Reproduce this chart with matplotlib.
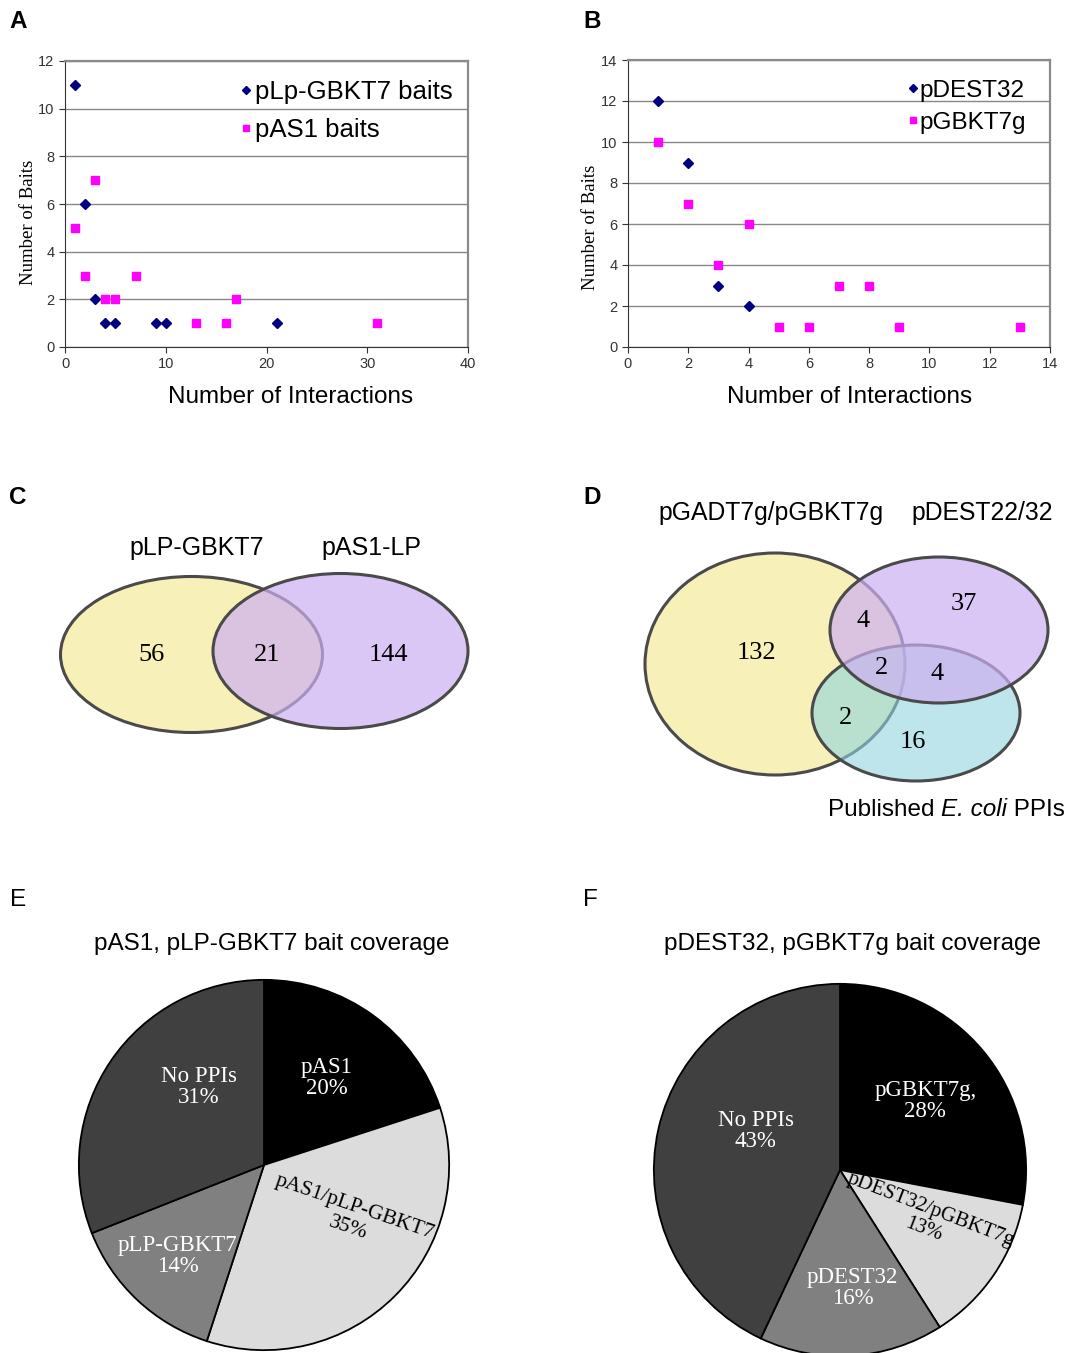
import matplotlib
matplotlib.use("Agg")
import matplotlib.pyplot as plt
from matplotlib.patches import Ellipse
import numpy as np

# ---------------- data ----------------
# Panel A
a_plp_x = [1, 2, 3, 4, 5, 9, 10, 21]
a_plp_y = [11, 6, 2, 1, 1, 1, 1, 1]
a_pas_x = [1, 2, 3, 4, 5, 7, 13, 16, 17, 31]
a_pas_y = [5, 3, 7, 2, 2, 3, 1, 1, 2, 1]
a_labels = ["pLp-GBKT7 baits", "pAS1 baits"]
# Panel B
b_dest_x = [1, 2, 3, 4]
b_dest_y = [12, 9, 3, 2]
b_gbk_x = [1, 2, 3, 4, 5, 6, 7, 8, 9, 13]
b_gbk_y = [10, 7, 4, 6, 1, 1, 3, 3, 1, 1]
b_labels = ["pDEST32", "pGBKT7g"]
# Panel C venn
c_sets = ["pLP-GBKT7", "pAS1-LP"]
c_counts = [56, 21, 144]
# Panel D venn
d_sets = ["pGADT7g/pGBKT7g", "pDEST22/32"]
d_third = ["Published ", "E. coli", " PPIs"]
d_counts = {"A": 132, "AB": 4, "B": 37, "ABC": 2, "BC": 4, "AC": 2, "C": 16}
# Panel E pie
e_title = "pAS1, pLP-GBKT7 bait coverage"
e_labels = ["pAS1", "pAS1/pLP-GBKT7", "pLP-GBKT7", "No PPIs"]
e_values = [20, 35, 14, 31]
# Panel F pie
f_title = "pDEST32, pGBKT7g bait coverage"
f_labels = ["pGBKT7g,", "pDEST32/pGBKT7g", "pDEST32", "No PPIs"]
f_values = [28, 13, 16, 43]

SANS = "Liberation Sans"
SERIF = "Liberation Serif"
W, H = 1075, 1353

fig = plt.figure(figsize=(W / 100, H / 100), dpi=100)


def ax_px(l, t, r, b):
    return fig.add_axes([l / W, 1 - b / H, (r - l) / W, (b - t) / H])


def style_scatter(ax, xmax, xstep, ymax, ystep):
    ax.set_xlim(0, xmax)
    ax.set_ylim(0, ymax)
    ax.set_xticks(np.arange(0, xmax + 0.1, xstep))
    ax.set_yticks(np.arange(0, ymax + 0.1, ystep))
    ax.grid(axis="y", color="#888888", lw=1.0)
    ax.set_axisbelow(True)
    for s in ["top", "right"]:
        ax.spines[s].set_color("#8a8a8a")
        ax.spines[s].set_linewidth(1.6)
    for s in ["left", "bottom"]:
        ax.spines[s].set_color("#333333")
    ax.tick_params(labelsize=10.5, labelcolor="#333333", length=4, color="#333333")
    for lab in ax.get_xticklabels() + ax.get_yticklabels():
        lab.set_fontfamily(SANS)


# ---------------- Panel A ----------------
axA = ax_px(65, 61, 468, 347)
style_scatter(axA, 40, 10, 12, 2)
axA.plot(a_plp_x, a_plp_y, "D", color="#000080", ms=5.2, ls="none", label=a_labels[0], clip_on=False)
axA.plot(a_pas_x, a_pas_y, "s", color="#ff00ff", ms=5.6, ls="none", label=a_labels[1], clip_on=False)
axA.set_xlabel("Number of Interactions", fontsize=17.5, family=SANS)
axA.xaxis.set_label_coords((291 - 65) / 403, -0.135)
axA.set_ylabel("Number of Baits", fontsize=13.5, family=SERIF)
axA.yaxis.set_label_coords(-0.07, (347 - 222) / 286)
axA.legend(loc="upper left", bbox_to_anchor=(0.408, 0.98), frameon=False,
           prop={"family": SANS, "size": 18.5}, handlelength=0.3, handletextpad=0.2,
           borderpad=0, labelspacing=0.55, markerscale=0.75)

# ---------------- Panel B ----------------
axB = ax_px(628, 60, 1050, 347)
style_scatter(axB, 14, 2, 14, 2)
axB.plot(b_dest_x, b_dest_y, "D", color="#000080", ms=5.2, ls="none", label=b_labels[0])
axB.plot(b_gbk_x, b_gbk_y, "s", color="#ff00ff", ms=5.6, ls="none", label=b_labels[1])
axB.set_xlabel("Number of Interactions", fontsize=17.5, family=SANS)
axB.xaxis.set_label_coords((850 - 628) / 422, -0.135)
axB.set_ylabel("Number of Baits", fontsize=13.5, family=SERIF)
axB.yaxis.set_label_coords(-0.068, (347 - 227) / 287)
axB.legend(loc="upper left", bbox_to_anchor=(0.637, 0.973), frameon=False,
           prop={"family": SANS, "size": 17.5}, handlelength=0.3, handletextpad=0.15,
           borderpad=0, labelspacing=0.4, markerscale=0.75)

# ---------------- overlay for Venns and text ----------------
ov = fig.add_axes([0, 0, 1, 1], zorder=-1)
ov.set_xlim(0, W)
ov.set_ylim(H, 0)
ov.axis("off")

YEL = "#f7f0b8"
PUR = "#cdb0f2"
CYA = "#91d4df"
EDGE = "#4a4a4a"


def venn_ellipse(cx, cy, w, h, color, alpha):
    ov.add_patch(Ellipse((cx, cy), w, h, facecolor=color, alpha=alpha, edgecolor="none"))
    ov.add_patch(Ellipse((cx, cy), w, h, facecolor="none", edgecolor=EDGE, lw=2.2))


# Panel C
venn_ellipse(191.5, 654.5, 262, 156, YEL, 1.0)
venn_ellipse(340.5, 651, 255, 155, PUR, 0.7)
ov.text(197, 548, c_sets[0], ha="center", va="center", fontsize=18, family=SANS)
ov.text(371, 548, c_sets[1], ha="center", va="center", fontsize=18, family=SANS)
for (x, y), v in zip([(151, 655), (267, 655), (388, 655)], c_counts):
    ov.text(x, y, str(v), ha="center", va="center", fontsize=19, family=SERIF)

# Panel D  (order: yellow, cyan, purple on top)
venn_ellipse(775, 664, 260, 222, YEL, 1.0)
venn_ellipse(916, 713, 208, 136, CYA, 0.6)
venn_ellipse(939, 630, 218, 146, PUR, 0.7)
ov.text(771, 513, d_sets[0], ha="center", va="center", fontsize=17.8, family=SANS)
ov.text(982, 513, d_sets[1], ha="center", va="center", fontsize=17.8, family=SANS)
d_pos = {"A": (756, 653), "AB": (863, 621), "B": (964, 604), "ABC": (882, 668),
         "BC": (937, 674), "AC": (846, 718), "C": (913, 742)}
for k, v in d_counts.items():
    x, y = d_pos[k]
    ov.text(x, y, str(v), ha="center", va="center", fontsize=19, family=SERIF)

# "Published E. coli PPIs" built from pieces (italic species name)
fig.canvas.draw()
renderer = fig.canvas.get_renderer()
x0 = 828
for txt, style in zip(d_third, ["normal", "italic", "normal"]):
    t = ov.text(x0, 810, txt, ha="left", va="center", fontsize=17.5, family=SANS,
                style=style)
    bb = t.get_window_extent(renderer)
    x0 += bb.width  # pixels == data units in this overlay

# panel letters
for lab, x, y, wgt in [("A", 18, 22, "bold"), ("B", 592, 22, "bold"), ("C", 18, 497, "bold"),
                       ("D", 592, 497, "bold"), ("E", 18, 900, "normal"), ("F", 590, 900, "normal")]:
    ov.text(x, y, lab, ha="center", va="center", fontsize=17.5, family=SANS, weight=wgt)

# pie titles
ov.text(272, 944, e_title, ha="center", va="center", fontsize=17.5, family=SANS)
ov.text(852, 944, f_title, ha="center", va="center", fontsize=17.5, family=SANS)

# ---------------- Pies ----------------
PIE_COLORS = ["#000000", "#dcdcdc", "#808080", "#404040"]
TXT_COLORS = ["white", "black", "white", "white"]


def draw_pie(cx, cy, r, values, labels, label_polar, rotations, sizes):
    ax = ax_px(cx - r, cy - r, cx + r, cy + r)
    ax.pie(values, colors=PIE_COLORS, startangle=90, counterclock=False,
           wedgeprops=dict(edgecolor="black", linewidth=1.3), radius=1.0)
    ax.set_xlim(-1.01, 1.01)
    ax.set_ylim(-1.01, 1.01)
    ax.set_aspect("auto")
    for i, (lab, v) in enumerate(zip(labels, values)):
        ang, rr = label_polar[i]
        x, y = rr * np.cos(np.radians(ang)), rr * np.sin(np.radians(ang))
        ax.text(x, y, f"{lab}\n{v}%", ha="center", va="center", color=TXT_COLORS[i],
                fontsize=sizes[i], family=SERIF, rotation=rotations[i],
                linespacing=1.0 if rotations[i] == 0 else 1.2,
                rotation_mode="anchor")
    for w in ax.patches:
        w.set_clip_on(False)
    return ax


draw_pie(264, 1165, 187, e_values, e_labels,
         [(54.4, 0.58), (-31, 0.55), (-133.4, 0.68), (129.9, 0.55)], [0, -19, 0, 0],
         [16.5, 15.5, 16.5, 16.5])
draw_pie(840, 1170, 188, f_values, f_labels,
         [(39.1, 0.59), (-29.6, 0.54), (-84, 0.64), (155, 0.50)], [0, -21, 0, 0],
         [16.5, 15, 16.5, 16.5])

fig.savefig("out.png", dpi=100)
